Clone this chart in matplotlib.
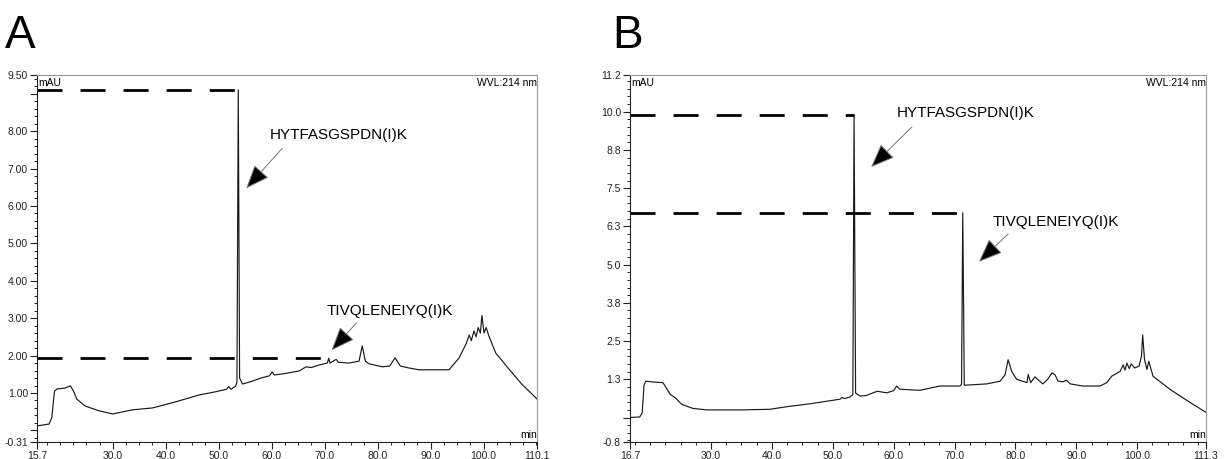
import matplotlib
matplotlib.use("Agg")
from matplotlib import pyplot as plt
from matplotlib.ticker import FixedLocator, MultipleLocator

plt.rcParams['font.family'] = ['Liberation Sans', 'DejaVu Sans']

# ---- Panel A chromatogram (retention time in min, absorbance in mAU) ----
TimeA = [15.7, 18.0, 18.5, 19.0, 19.5, 21.0, 22.0, 22.6, 23.2, 24.8, 27.5, 30.0,
         33.7, 37.5, 41.3, 46.4, 49.0, 51.5, 51.9, 52.3, 53.2, 53.45, 53.7, 53.95,
         54.5, 56.0, 58.0, 59.6, 60.1, 60.5, 62.5, 65.2, 66.5, 67.5, 69.0, 70.5,
         70.8, 71.0, 72.2, 72.6, 74.6, 76.5, 77.1, 77.7, 78.4, 80.9, 82.3, 83.3,
         84.3, 85.9, 87.8, 93.5, 95.4, 96.7, 97.3, 97.7, 98.2, 98.6, 99.0, 99.4,
         99.7, 100.1, 100.5, 101.0, 102.3, 104.8, 107.2, 110.1]
SignalA = [0.12, 0.17, 0.35, 1.05, 1.11, 1.13, 1.19, 1.05, 0.84, 0.65, 0.52, 0.44,
           0.55, 0.60, 0.74, 0.95, 1.02, 1.10, 1.17, 1.10, 1.18, 1.30, 9.10, 1.40,
           1.24, 1.30, 1.40, 1.46, 1.56, 1.48, 1.52, 1.59, 1.70, 1.68, 1.75, 1.80,
           1.93, 1.80, 1.90, 1.82, 1.80, 1.85, 2.26, 1.85, 1.78, 1.70, 1.72, 1.94,
           1.72, 1.67, 1.62, 1.62, 1.94, 2.31, 2.55, 2.40, 2.66, 2.50, 2.75, 2.60,
           3.07, 2.60, 2.75, 2.53, 2.07, 1.64, 1.24, 0.84]
XLimA = (15.7, 110.1)
YLimA = (-0.31, 9.50)
XTicksA = [15.7, 30.0, 40.0, 50.0, 60.0, 70.0, 80.0, 90.0, 100.0, 110.1]
XTickLabelsA = ['15.7', '30.0', '40.0', '50.0', '60.0', '70.0', '80.0', '90.0', '100.0', '110.1']
YTicksA = [-0.31, 0.0, 1.0, 2.0, 3.0, 4.0, 5.0, 6.0, 7.0, 8.0, 9.0, 9.50]
YTickLabelsA = ['-0.31', '', '1.00', '2.00', '3.00', '4.00', '5.00', '6.00', '7.00', '8.00', '', '9.50']
PeakTimesA = [53.7, 70.8]
PeakHeightsA = [9.10, 1.93]

# ---- Panel B chromatogram ----
TimeB = [16.7, 18.3, 18.7, 19.0, 19.3, 20.5, 22.1, 22.4, 23.3, 24.1, 25.2, 27.0,
         29.3, 35.3, 39.7, 43.0, 46.3, 51.2, 51.5, 51.9, 52.8, 53.3, 53.5, 53.75,
         54.5, 55.5, 57.3, 58.2, 58.9, 60.0, 60.5, 61.0, 61.5, 64.3, 67.6, 70.9,
         71.15, 71.35, 71.6, 72.0, 75.3, 77.5, 78.3, 78.8, 79.4, 80.2, 81.9, 82.1,
         82.5, 83.2, 84.5, 85.3, 86.0, 86.5, 87.0, 87.8, 88.4, 89.0, 91.1, 93.9,
         95.0, 95.8, 97.2, 97.7, 98.0, 98.3, 98.7, 99.0, 99.6, 100.3, 100.7, 100.9,
         101.2, 101.6, 101.9, 102.6, 105.4, 108.7, 111.3]
SignalB = [0.00, 0.02, 0.15, 1.05, 1.19, 1.16, 1.14, 1.05, 0.76, 0.65, 0.43, 0.30,
           0.25, 0.25, 0.27, 0.37, 0.45, 0.60, 0.66, 0.62, 0.67, 0.75, 9.90, 0.80,
           0.70, 0.72, 0.86, 0.83, 0.81, 0.88, 1.03, 0.93, 0.92, 0.89, 1.03, 1.03,
           1.10, 6.70, 1.06, 1.06, 1.10, 1.19, 1.40, 1.89, 1.50, 1.25, 1.14, 1.41,
           1.14, 1.33, 1.10, 1.25, 1.46, 1.40, 1.19, 1.17, 1.22, 1.10, 1.03, 1.03,
           1.14, 1.35, 1.51, 1.72, 1.55, 1.78, 1.60, 1.75, 1.62, 1.68, 2.00, 2.70,
           1.90, 1.57, 1.84, 1.35, 0.92, 0.49, 0.17]
XLimB = (16.7, 111.3)
YLimB = (-0.8, 11.2)
XTicksB = [16.7, 30.0, 40.0, 50.0, 60.0, 70.0, 80.0, 90.0, 100.0, 111.3]
XTickLabelsB = ['16.7', '30.0', '40.0', '50.0', '60.0', '70.0', '80.0', '90.0', '100.0', '111.3']
YTicksB = [-0.8, 0.0, 1.25, 2.5, 3.75, 5.0, 6.25, 7.5, 8.75, 10.0, 11.2]
YTickLabelsB = ['-0.8', '', '1.3', '2.5', '3.8', '5.0', '6.3', '7.5', '8.8', '10.0', '11.2']
PeakTimesB = [53.5, 71.35]
PeakHeightsB = [9.90, 6.70]

Peptides = ["HYTFASGSPDN(I)K", "TIVQLENEIYQ(I)K"]


def draw_panel(ax, t, s, xlim, ylim, xticks, xlabels, yticks, ylabels, yminor,
               peak_t, peak_h, labels, text_xy, arrow_tail, arrow_tip):
    ax.plot(t, s, color='#1a1a1a', lw=0.85)

    # dashed guide from the y axis to the top of each marked peak
    for pt, ph in zip(peak_t, peak_h):
        ax.plot([xlim[0], pt], [ph, ph], color='black', lw=2.0, dashes=(9, 6.5))

    # peptide labels with arrows
    for lab, txy, tail, tip in zip(labels, text_xy, arrow_tail, arrow_tip):
        ax.text(txy[0], txy[1], lab, fontsize=11, ha='left', va='center')
        ax.annotate('', xy=tip, xytext=tail,
                    arrowprops=dict(arrowstyle='-|>,head_length=1.5,head_width=0.6',
                                    fc='black', ec='#777777', lw=0.7,
                                    shrinkA=0, shrinkB=0))

    ax.set_xlim(*xlim)
    ax.set_ylim(*ylim)
    ax.xaxis.set_major_locator(FixedLocator(xticks))
    ax.set_xticklabels(xlabels)
    ax.xaxis.set_minor_locator(MultipleLocator(2.5))
    ax.yaxis.set_major_locator(FixedLocator(yticks))
    ax.set_yticklabels(ylabels)
    ax.yaxis.set_minor_locator(MultipleLocator(yminor))
    ax.tick_params(which='major', direction='out', length=5, width=0.8,
                   labelsize=7.5, pad=1.5, colors='#222222')
    ax.tick_params(which='minor', direction='out', length=2.5, width=0.7, colors='#222222')

    for side in ['top', 'right']:
        ax.spines[side].set_color('#999999')
    for side in ['left', 'bottom']:
        ax.spines[side].set_color('#222222')

    ax.text(0.003, 0.992, 'mAU', transform=ax.transAxes, ha='left', va='top', fontsize=7.5)
    ax.text(1.0, 0.992, 'WVL:214 nm', transform=ax.transAxes, ha='right', va='top', fontsize=7.5)
    ax.text(1.0, 0.006, 'min', transform=ax.transAxes, ha='right', va='bottom', fontsize=7.5)


fig = plt.figure(figsize=(12.24, 4.59), dpi=100)
axA = fig.add_axes([37 / 1224, 1 - 442 / 459, 500 / 1224, 367 / 459])
axB = fig.add_axes([630 / 1224, 1 - 442 / 459, 576 / 1224, 367 / 459])

draw_panel(axA, TimeA, SignalA, XLimA, YLimA, XTicksA, XTickLabelsA, YTicksA, YTickLabelsA, 0.2,
           PeakTimesA, PeakHeightsA, Peptides,
           text_xy=[(59.6, 7.90), (70.3, 3.20)],
           arrow_tail=[(62.0, 7.54), (76.0, 2.87)],
           arrow_tip=[(55.2, 6.47), (71.3, 2.14)])
draw_panel(axB, TimeB, SignalB, XLimB, YLimB, XTicksB, XTickLabelsB, YTicksB, YTickLabelsB, 0.25,
           PeakTimesB, PeakHeightsB, Peptides,
           text_xy=[(60.5, 9.96), (76.3, 6.40)],
           arrow_tail=[(63.0, 9.50), (78.8, 6.00)],
           arrow_tip=[(56.3, 8.19), (74.0, 5.09)])

fig.text(5 / 1224, 1 - 14 / 459, 'A', fontsize=33, ha='left', va='top')
fig.text(612 / 1224, 1 - 14 / 459, 'B', fontsize=33, ha='left', va='top')

# save figure to file
plt.savefig('out.png', dpi=100)
